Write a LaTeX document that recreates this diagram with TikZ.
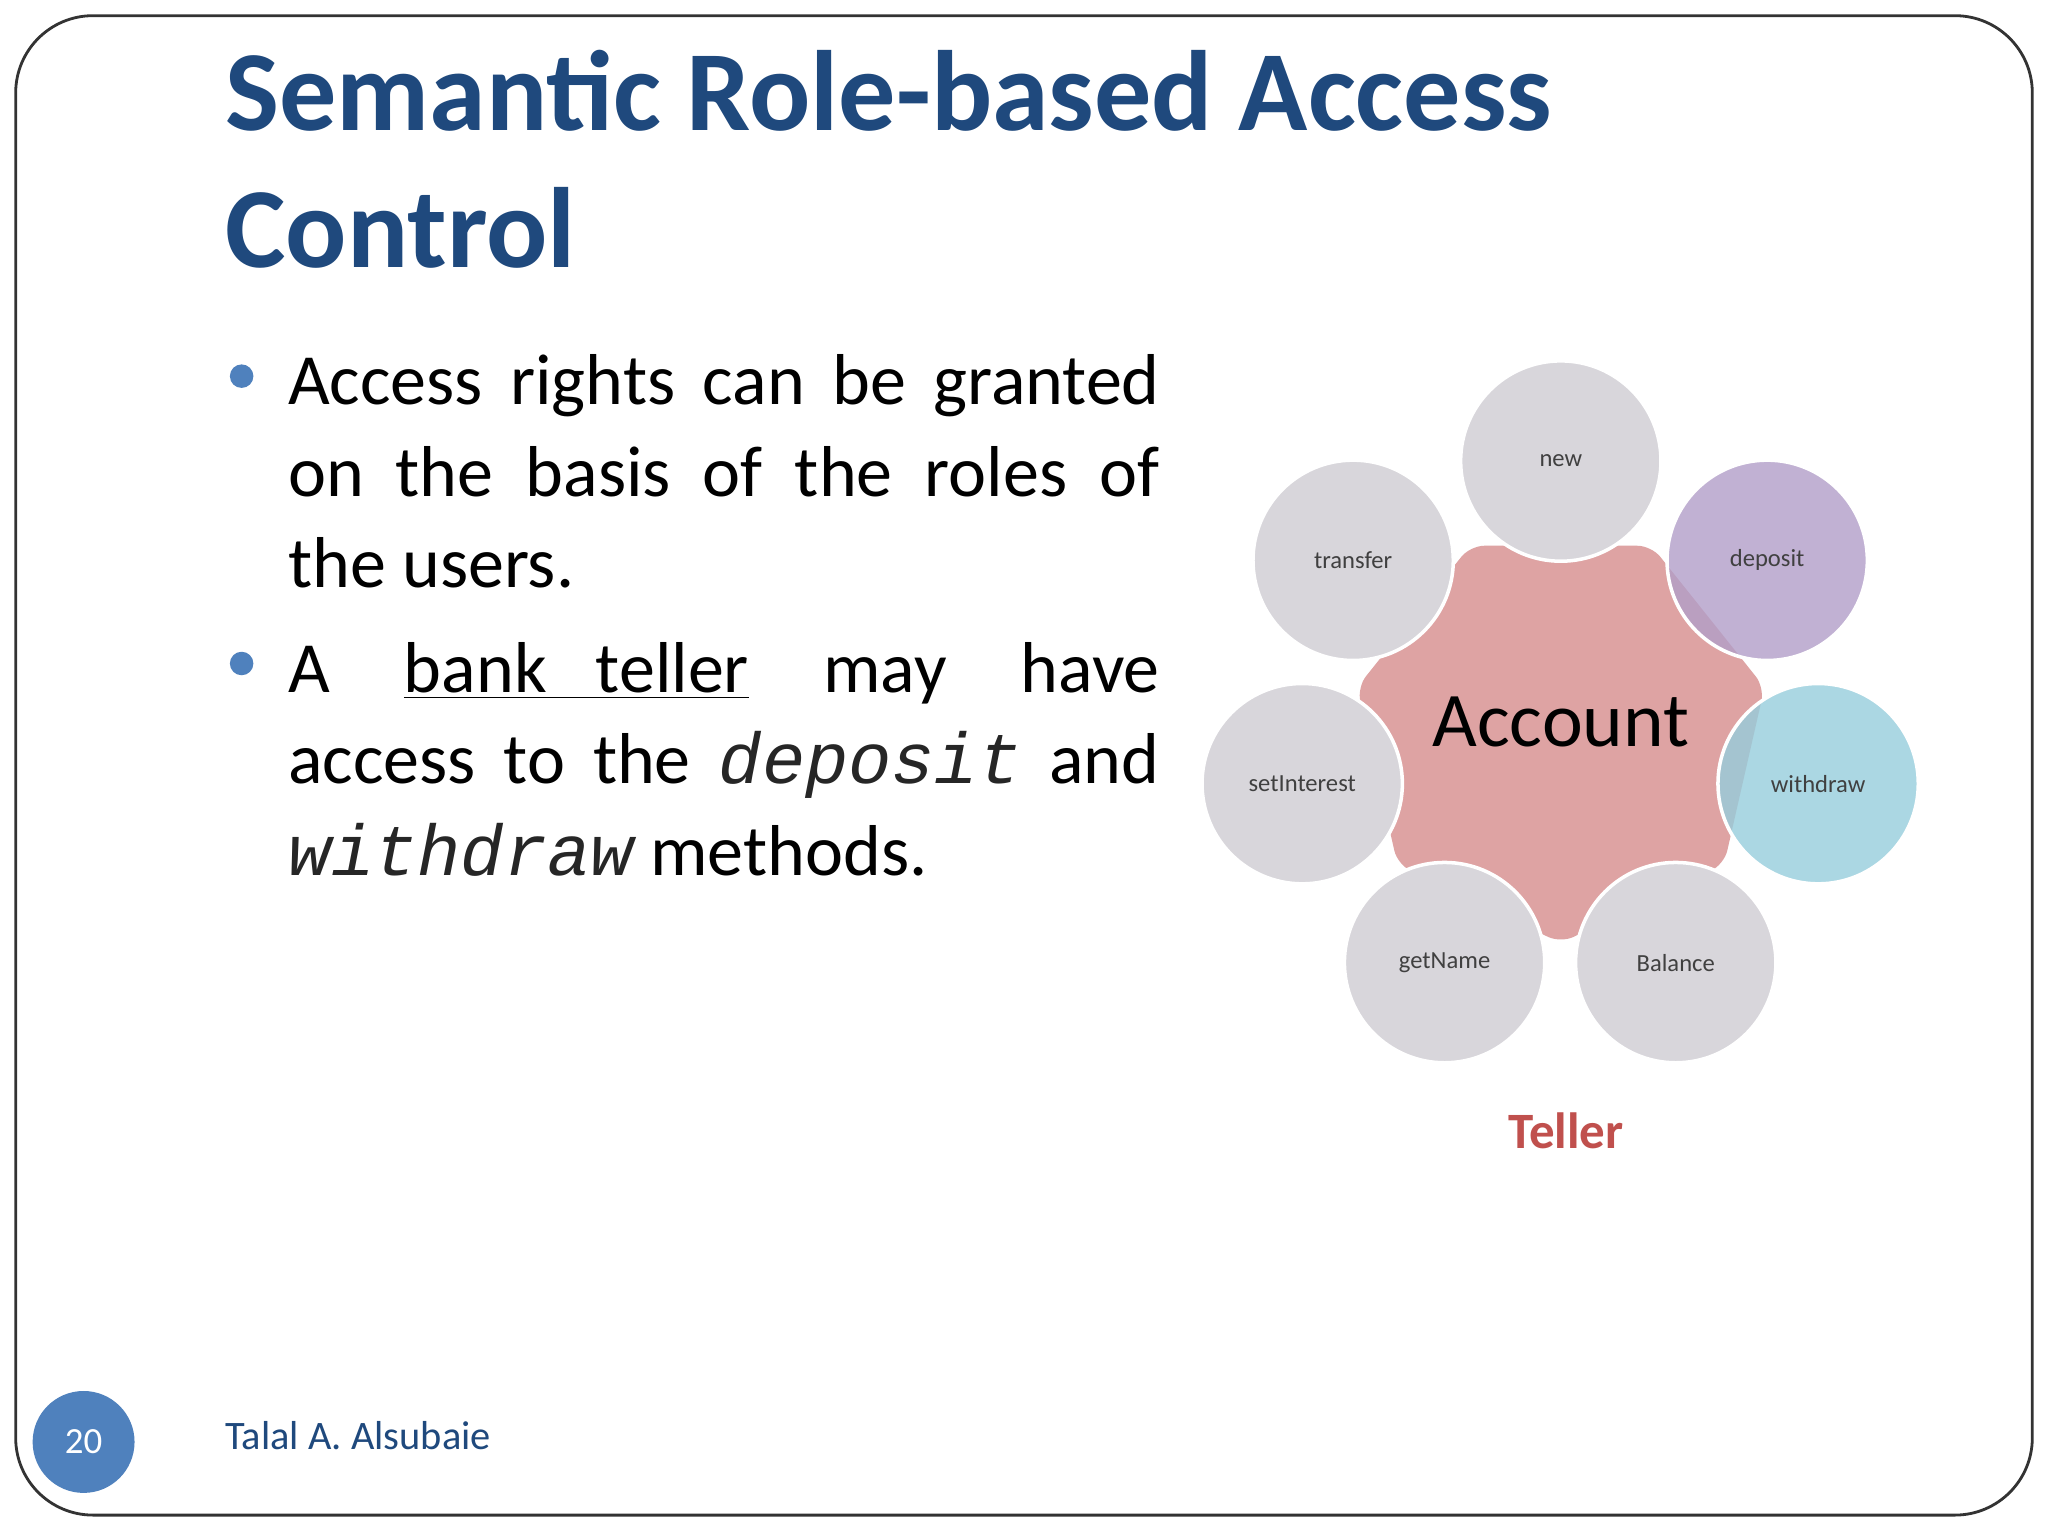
\documentclass[tikz,border=0pt]{standalone}
\usepackage{fontspec}
\setmainfont{Carlito}
\setmonofont{Liberation Mono}
\definecolor{titleblue}{RGB}{31,73,125}
\definecolor{bullblue}{RGB}{79,129,189}
\definecolor{pinkacc}{RGB}{222,163,163}
\definecolor{gcirc}{RGB}{216,214,219}
\definecolor{purp}{RGB}{178,158,200}
\definecolor{cyanc}{RGB}{150,205,220}
\definecolor{tellred}{RGB}{192,80,77}
\newcommand{\jl}[1]{\makebox[248pt][s]{#1}}
\begin{document}
\begin{tikzpicture}[x=0.013061cm,y=-0.013061cm,
  body/.style={anchor=base west,inner sep=0,font=\fontsize{20.5}{24}\selectfont},
  mcirc/.style={circle,minimum size=57pt,inner sep=0,draw=white,line width=1pt,fill=gcirc,font=\fontsize{7}{8}\selectfont,text=black!75}]
\useasboundingbox (0,0) rectangle (1568,1176);
\fill[white] (0,0) rectangle (1568,1176);
\draw[line width=0.8pt,rounded corners=22pt,black!80] (12,12) rectangle (1556,1160);
% title
\node[anchor=base west,inner sep=0,text=titleblue,font=\fontsize{32.5}{40}\bfseries\selectfont] (t1) at (172,100) {Semantic Role-based Access};
\node[anchor=base west,inner sep=0,text=titleblue,font=\fontsize{32.5}{40}\bfseries\selectfont] (t2) at (172,205) {Control};
% bullets
\fill[bullblue] (185,288) circle (9);
\fill[bullblue] (185,508) circle (9);
\node[body] (l1) at (220,310) {\jl{Access rights can be granted}};
\node[body] (l2) at (220,380) {\jl{on the basis of the roles of}};
\node[body] (l3) at (220,450) {the users.};
\node[body] (l4) at (220,530) {\jl{A \underline{bank\ \ \ teller} may have}};
\node[body] (l5) at (220,600) {\jl{access to the \texttt{\itshape\color{black!85}deposit} and}};
\node[body] (l6) at (220,670) {\texttt{\itshape\color{black!85}withdraw} methods.};
% diagram
\fill[pinkacc,rounded corners=4pt,shift={(1195,562)}] (244.3:160) -- (192.9:160) -- (141.4:160) -- (90:160) -- (38.6:160) -- (347.1:160) -- (295.7:160) -- cycle;
\node[font=\fontsize{22}{26}\selectfont] (acc) at (1195,553) {Account};
\node[mcirc] (new) at (1195,353) {new};
\node[mcirc] (tr) at (1036,429) {transfer};
\node[mcirc] (si) at (997,600) {setInterest};
\node[mcirc] (gn) at (1106,737) {getName};
\node[mcirc] (ba) at (1283,737) {Balance};
\node[mcirc,fill=purp,fill opacity=0.8,text opacity=1] (dep) at (1353,429) {deposit};
\node[mcirc,fill=cyanc,fill opacity=0.8,text opacity=1] (wd) at (1392,600) {withdraw};
\node[text=tellred,font=\fontsize{14.5}{17}\bfseries\selectfont] (tel) at (1199,866) {Teller};
% footer
\node[circle,fill=bullblue,minimum size=29pt,text=white,font=\fontsize{10.5}{12}\selectfont] (pg) at (64,1104) {20};
\node[anchor=west,text=titleblue,font=\fontsize{11.5}{14}\selectfont,inner sep=0] (au) at (172,1099) {Talal A. Alsubaie};
\end{tikzpicture}
\end{document}
